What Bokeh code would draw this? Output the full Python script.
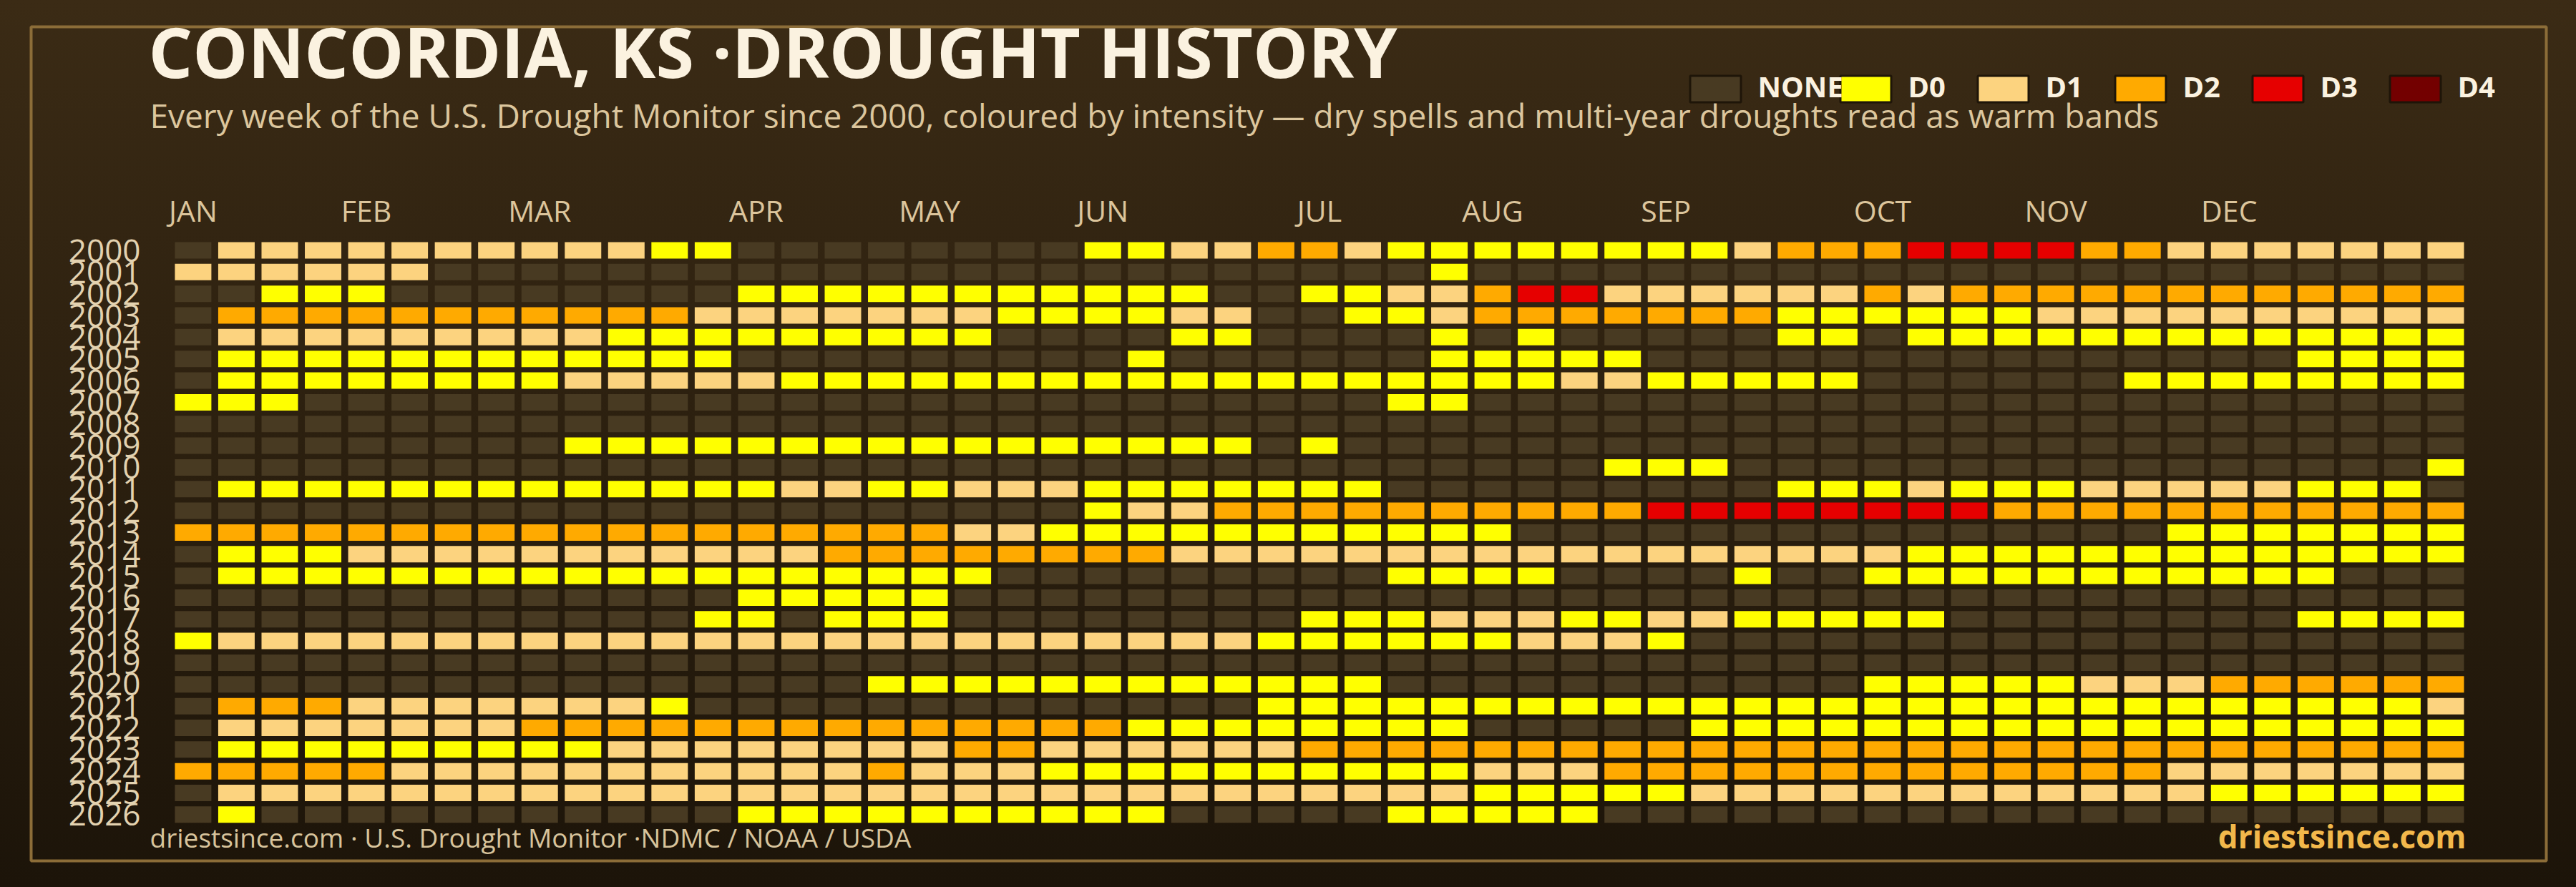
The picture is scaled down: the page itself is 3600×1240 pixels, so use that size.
from bokeh.plotting import figure
from bokeh.models import Range1d
from bokeh.embed import file_html
from bokeh.resources import INLINE
from bokeh.core.properties import value

# ---------------- data ----------------
YEARS = [2000, 2001, 2002, 2003, 2004, 2005, 2006, 2007, 2008, 2009,
         2010, 2011, 2012, 2013, 2014, 2015, 2016, 2017, 2018, 2019,
         2020, 2021, 2022, 2023, 2024, 2025, 2026]

# one string per year, one character per week (53 weeks):
# "." = no drought, "0".."4" = D0..D4 (spaces are only for readability)
WEEK_CODES = [
    ".111111111 100....... .001122100 0000001222 3333221111 111",  # 2000
    "111111.... .......... .........0 .......... .......... ...",  # 2001
    "..000..... ...0000000 0000..0011 2331111112 1222222222 222",  # 2002
    ".222222222 2211111110 00011..001 2222222000 0001111111 111",  # 2003
    ".111111111 000000000. ...00....0 .0.....00. 0000000000 000",  # 2004
    ".000000000 000....... ..0......0 0000...... .........0 000",  # 2005
    ".000000001 1111000000 0000000000 001100000. .....00000 000",  # 2006
    "000....... .......... ........00 .......... .......... ...",  # 2007
    ".......... .......... .......... .......... .......... ...",  # 2008
    ".........0 0000000000 00000.0... .......... .......... ...",  # 2009
    ".......... .......... .......... ...000.... .......... ..0",  # 2010
    ".000000000 0000110011 10000000.. .......000 1000111110 00.",  # 2011
    ".......... .......... .011222222 2222333333 3322222222 222",  # 2012
    "2222222222 2222222211 0000000000 0......... ......0000 000",  # 2013
    ".000111111 1111122222 2221111111 1111111111 0000000000 000",  # 2014
    ".000000000 000000000. ........00 00....0..0 0000000000 ...",  # 2015
    ".......... ...00000.. .......... .......... .......... ...",  # 2016
    ".......... ..00.000.. ......0001 1100110000 0........0 000",  # 2017
    "0111111111 1111111111 1111100000 01110..... .......... ...",  # 2018
    ".......... .......... .......... .......... .......... ...",  # 2019
    ".......... ......0000 00000000.. .........0 0000111222 222",  # 2020
    ".222111111 10........ .....00000 0000000000 0000000000 001",  # 2021
    ".111111122 2222222222 2200000000 .....00000 0000000000 000",  # 2022
    ".000000000 1111111122 1111112222 2222222222 2222222222 222",  # 2023
    "2222211111 1111112111 0000000000 1112222222 2222221111 111",  # 2024
    ".111111111 1111111111 1111111111 0000011111 1111111000 000",  # 2025
    ".0........ ...0000000 000.....00 000....... .......... ...",  # 2026
]

MONTHS = ["JAN", "FEB", "MAR", "APR", "MAY", "JUN",
          "JUL", "AUG", "SEP", "OCT", "NOV", "DEC"]
MONTH_START_WEEK = [0, 4, 8, 13, 17, 21, 26, 30, 34, 39, 43, 47]

LEVELS = ["NONE", "D0", "D1", "D2", "D3", "D4"]
LEVEL_CODES = [".", "0", "1", "2", "3", "4"]
LEVEL_COLORS = ["#483a22", "#ffff00", "#fcd37f", "#ffaa00", "#e60000", "#730000"]

TITLE = "CONCORDIA, KS \u00b7DROUGHT HISTORY"
SUBTITLE = ("Every week of the U.S. Drought Monitor since 2000, coloured by intensity "
            "\u2014 dry spells and multi-year droughts read as warm bands")
SOURCE = "driestsince.com  \u00b7 U.S. Drought Monitor \u00b7NDMC / NOAA / USDA"
BRAND = "driestsince.com"

# ---------------- layout (page pixels) ----------------
W, H = 3600, 1240
PX, X0 = 60.54, 269.4      # px per week, x of week 0 centre
PY, Y0 = 30.34, 349.5      # px per year row, y (from top) of first row centre
FONT = value("Open Sans")


def dx(fx):
    return (fx - X0) / PX


def dy(fy):
    return YEARS[0] + (fy - Y0) / PY


p = figure(width=W, height=H, output_backend="svg", toolbar_location=None,
           x_range=Range1d(dx(0), dx(W)), y_range=Range1d(dy(H), dy(0)),
           x_axis_type=None, y_axis_type=None, min_border=0,
           outline_line_color=None, background_fill_color=None,
           border_fill_color=None)

# frame
p.quad(left=[dx(43)], right=[dx(3558)], top=[dy(37)], bottom=[dy(1203)],
       fill_color=None, line_color="#8c6d38", line_width=4)

# cells
xs, ys, cols = [], [], []
for year, codes in zip(YEARS, WEEK_CODES):
    codes = codes.replace(" ", "")
    assert len(codes) == 53, (year, len(codes))
    for k, c in enumerate(codes):
        xs.append(k)
        ys.append(year)
        cols.append(LEVEL_COLORS[LEVEL_CODES.index(c)])
p.rect(x=xs, y=ys, width=51 / PX, height=23 / PY, fill_color=cols, line_color=None)

# year labels
p.text(x=[dx(196)] * len(YEARS), y=YEARS, text=[str(y) for y in YEARS],
       text_font=FONT, text_font_size="44px", text_color="#e3d2b0",
       text_align="right", text_baseline="middle")

# month labels
p.text(x=MONTH_START_WEEK, y=[dy(293.5)] * len(MONTHS), text=MONTHS,
       text_font=FONT, text_font_size="41px", text_color="#dcc59c",
       text_align="center", text_baseline="middle")

# subtitle
p.text(x=[dx(209)], y=[dy(160)], text=[SUBTITLE], text_font=FONT,
       text_font_size="46px", text_color="#dcc69d",
       text_align="left", text_baseline="middle")

# footer source
p.text(x=[dx(209)], y=[dy(1170)], text=[SOURCE], text_font=FONT,
       text_font_size="37px", text_color="#d8c49c",
       text_align="left", text_baseline="middle")

# legend boxes
leg_left = [2360] + [2570 + 192 * i for i in range(len(LEVELS) - 1)]
p.rect(x=[dx(l + 37) for l in leg_left], y=[dy(124)] * len(LEVELS),
       width=71 / PX, height=37 / PY, fill_color=LEVEL_COLORS,
       line_color="#1e1508", line_width=3)

# legend labels (bold)
p.text(x=[dx(l + 96) for l in leg_left], y=[dy(120)] * len(LEVELS), text=LEVELS,
       text_font=FONT, text_font_style="bold", text_font_size="40px",
       text_color="#fbf2e0", text_align="left", text_baseline="middle")

# brand (bold)
p.text(x=[dx(3446)], y=[dy(1168)], text=[BRAND], text_font=FONT,
       text_font_style="bold", text_font_size="44px", text_color="#f2b84b",
       text_align="right", text_baseline="middle")

# title (bold)
p.text(x=[dx(207)], y=[dy(70)], text=[TITLE], text_font=FONT,
       text_font_style="bold", text_font_size="97px", text_color="#fbf2e0",
       text_align="left", text_baseline="middle")

html = file_html(p, INLINE, title="Concordia, KS drought history")
css = ("<style>html{background:linear-gradient(180deg,#3b2b15 0%,#1c1409 100%);"
       "min-height:100%;}body{background:transparent;}</style>")
html = html.replace("</head>", css + "</head>", 1)
open("out.html", "w").write(html)
